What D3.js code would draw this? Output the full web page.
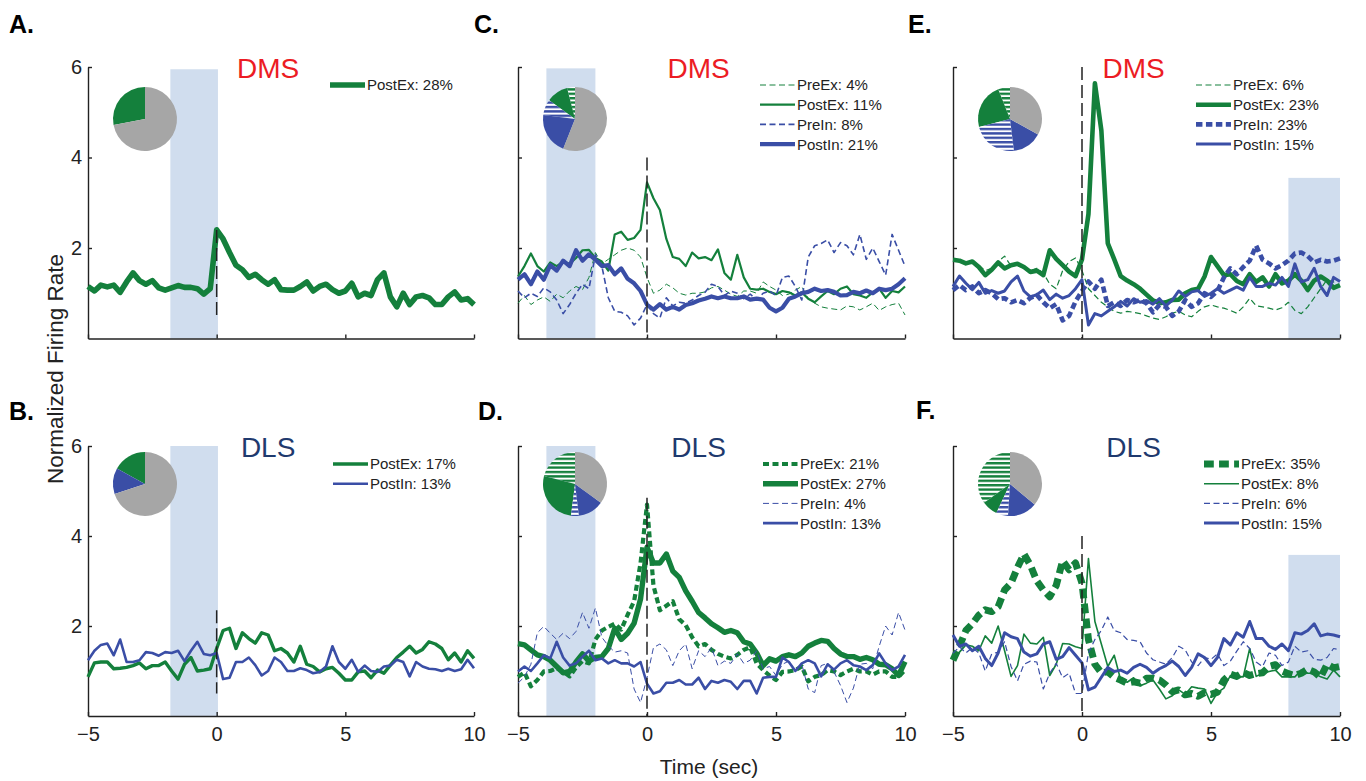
<!DOCTYPE html>
<html>
<head>
<meta charset="utf-8">
<script src="https://d3js.org/d3.v7.min.js"></script>
<style>
    body { margin: 0; background: #fff; }
    svg text { font-family: "Liberation Sans", Arial, sans-serif; fill: #222; }
</style>
</head>
<body>
<div id="chart"></div>
<script>
// sample times, sec
var timeSec = [-5, -4.75, -4.5, -4.25, -4, -3.75, -3.5, -3.25, -3, -2.75,
    -2.5, -2.25, -2, -1.75, -1.5, -1.25, -1, -0.75, -0.5, -0.25,
    0, 0.25, 0.5, 0.75, 1, 1.25, 1.5, 1.75, 2, 2.25,
    2.5, 2.75, 3, 3.25, 3.5, 3.75, 4, 4.25, 4.5, 4.75,
    5, 5.25, 5.5, 5.75, 6, 6.25, 6.5, 6.75, 7, 7.25,
    7.5, 7.75, 8, 8.25, 8.5, 8.75, 9, 9.25, 9.5, 9.75,
    10];

var seriesNames = ["PreEx", "PostEx", "PreIn", "PostIn"];

// percent of units per class (PreEx, PostEx, PreIn, PostIn)
var pctA = [0, 28, 0, 0];
var pctB = [0, 17, 0, 13];
var pctC = [4, 11, 8, 21];
var pctD = [21, 27, 4, 13];
var pctE = [6, 23, 23, 15];
var pctF = [35, 8, 6, 15];

// normalized firing rate traces
var A_PostEx = [1.15, 1.05, 1.18, 1.14, 1.18, 1.02, 1.25, 1.45, 1.28, 1.2,
    1.28, 1.12, 1.07, 1.12, 1.17, 1.13, 1.13, 1.1, 0.98, 1.1,
    2.4, 2.2, 1.9, 1.62, 1.52, 1.35, 1.42, 1.3, 1.2, 1.3,
    1.08, 1.07, 1.07, 1.15, 1.25, 1.05, 1.15, 1.2, 1.08, 1.0,
    1.05, 1.22, 0.92, 1.0, 0.95, 1.3, 1.45, 0.92, 0.7, 1.0,
    0.75, 0.92, 0.95, 0.9, 0.75, 0.75, 0.92, 1.03, 0.85, 0.88,
    0.75];

var B_PostEx = [0.87, 1.18, 1.2, 1.2, 1.05, 1.06, 1.08, 1.12, 1.18, 1.05,
    1.12, 1.12, 1.2, 1.0, 0.82, 1.15, 1.3, 1.0, 1.02, 1.05,
    1.5, 1.9, 1.95, 1.5, 1.85, 1.72, 1.62, 1.85, 1.8, 1.45,
    1.5, 1.4, 1.2, 1.55, 1.15, 1.1, 0.98, 1.05, 1.08, 0.95,
    0.8, 0.8, 0.98, 1.0, 0.85, 1.02, 0.95, 1.13, 1.3, 1.42,
    1.55, 1.4, 1.48, 1.65, 1.6, 1.5, 1.25, 1.4, 1.2, 1.45,
    1.28];
var B_PostIn = [1.24, 1.45, 1.58, 1.61, 1.35, 1.7, 1.2, 1.2, 1.24, 1.42,
    1.4, 1.34, 1.42, 1.4, 1.45, 1.22, 1.45, 1.65, 1.38, 1.35,
    1.4, 0.82, 0.85, 1.2, 1.2, 1.3, 1.13, 0.9, 1.0, 1.3,
    1.2, 1.0, 1.0, 1.06, 1.02, 0.95, 0.98, 1.1, 1.55, 1.2,
    1.05, 1.25, 0.98, 1.12, 1.0, 0.98, 1.1, 1.12, 1.25, 1.2,
    0.88, 1.2, 1.1, 1.05, 1.04, 1.0, 1.05, 1.0, 1.04, 1.25,
    1.06];

var C_PreEx = [0.78, 0.95, 0.75, 0.85, 0.92, 0.82, 0.98, 0.9, 1.05, 1.15,
    1.08, 1.35, 1.9, 1.65, 1.75, 1.85, 1.95, 2.0, 1.95, 1.8,
    1.35, 1.0, 1.07, 1.2, 1.12, 1.0, 0.96, 1.0, 1.0, 1.03,
    1.12, 1.15, 1.07, 0.98, 0.93, 1.05, 1.05, 1.0, 1.25, 1.15,
    1.07, 0.95, 0.98, 1.07, 1.15, 0.88, 0.78, 0.7, 0.67, 0.65,
    0.63, 0.72, 0.7, 0.63, 0.7, 0.78, 0.62, 0.7, 0.75, 0.78,
    0.52];
var C_PostEx = [1.37, 1.6, 1.88, 1.6, 1.48, 1.68, 1.6, 1.7, 1.65, 1.78,
    1.95, 1.96, 1.78, 1.7, 1.5, 2.3, 2.36, 2.18, 2.22, 2.4,
    3.45, 3.1, 2.84, 2.2, 1.8, 1.76, 1.6, 1.9, 1.77, 1.8,
    1.73, 1.97, 1.45, 1.3, 1.85, 1.35, 1.1, 1.08, 1.1, 1.03,
    0.98, 1.05, 1.02, 0.95, 1.02, 0.88, 0.8, 0.93, 1.05, 0.98,
    1.1, 1.15, 0.98, 0.95, 0.9, 1.02, 1.1, 0.9, 1.05, 1.02,
    1.15];
var C_PreIn = [1.05, 0.9, 1.0, 0.93, 1.12, 1.03, 0.85, 0.55, 0.75, 1.0,
    1.2, 1.1, 1.85, 1.6, 0.9, 0.6, 0.58, 0.5, 0.3, 0.45,
    0.75, 0.55, 0.45, 0.9, 0.72, 0.8, 0.78, 0.85, 0.95, 1.02,
    1.2, 1.15, 0.95, 1.05, 1.0, 0.88, 0.98, 0.85, 1.0, 1.05,
    0.95, 1.35, 1.38, 1.15, 0.85, 1.8, 2.05, 2.1, 2.18, 1.9,
    2.12, 2.05, 1.85, 2.3, 1.75, 2.0, 1.7, 1.4, 2.3, 1.95,
    1.6];
var C_PostIn = [1.3, 1.42, 1.2, 1.48, 1.3, 1.62, 1.5, 1.72, 1.6, 1.95,
    1.72, 1.86, 1.74, 1.6, 1.62, 1.42, 1.55, 1.32, 1.22, 1.05,
    0.75, 0.64, 0.76, 0.64, 0.7, 0.64, 0.74, 0.78, 0.84, 0.88,
    0.93, 0.89, 0.93, 0.89, 0.89, 0.93, 0.86, 0.88, 0.86, 0.68,
    0.6, 0.68, 0.88, 0.93, 1.0, 1.03, 1.1, 1.05, 1.07, 1.03,
    0.95, 0.96, 1.03, 1.0, 1.06, 1.0, 1.1, 1.07, 1.1, 1.2,
    1.33];

var D_PreEx = [0.87, 0.97, 0.66, 0.8, 0.99, 1.0, 1.06, 0.99, 0.88, 1.08,
    1.22, 1.17, 1.7, 1.9, 1.98, 2.05, 1.92, 2.25, 2.55, 3.4,
    4.7, 2.9, 2.35, 2.45, 2.55, 2.15, 2.02, 1.75, 1.55, 1.6,
    1.47, 1.38, 1.32, 1.28, 1.36, 1.47, 1.53, 1.17, 1.02, 0.9,
    0.8, 0.98, 0.99, 1.02, 1.1, 0.77, 0.87, 0.91, 1.02, 0.99,
    0.91, 0.99, 1.05, 0.99, 0.99, 0.92, 0.99, 0.99, 0.87, 0.87,
    1.02];
var D_PostEx = [1.61, 1.58, 1.47, 1.36, 1.32, 1.24, 1.1, 0.96, 0.99, 1.2,
    1.38, 1.22, 1.3, 1.32, 1.5, 1.95, 1.7, 1.84, 2.06, 2.6,
    3.75, 3.4, 3.4, 3.6, 3.22, 3.08, 2.78, 2.55, 2.3, 2.18,
    2.05, 1.96, 1.86, 1.9, 1.85, 1.65, 1.6, 1.4, 1.12, 1.27,
    1.22, 1.32, 1.36, 1.32, 1.4, 1.55, 1.62, 1.68, 1.66, 1.5,
    1.38, 1.32, 1.32, 1.26, 1.3, 1.25, 1.15, 1.14, 1.05, 0.9,
    1.21];
var D_PreIn = [0.73, 0.87, 1.15, 1.85, 1.99, 1.84, 1.7, 1.84, 1.72, 1.88,
    2.3, 1.95, 2.4, 1.75, 1.56, 1.42, 1.45, 1.4, 0.6, 0.3,
    0.85, 1.52, 1.6, 1.47, 1.12, 1.45, 1.6, 1.05, 1.45, 1.32,
    1.52, 1.12, 1.22, 1.17, 1.38, 1.17, 1.24, 1.45, 1.05, 1.1,
    0.9, 1.15, 1.22, 1.0, 1.15, 0.6, 0.52, 1.12, 1.17, 0.98,
    0.68, 0.3, 0.62, 1.15, 1.17, 1.05, 1.55, 2.0, 1.8, 2.3,
    1.91];
var D_PostIn = [0.99, 1.1, 1.0, 1.17, 1.35, 1.28, 1.65, 1.3, 1.12, 1.17,
    1.32, 1.45, 1.24, 1.28, 1.17, 1.24, 1.17, 1.17, 1.1, 1.2,
    0.72, 0.5, 0.55, 0.74, 0.74, 0.8, 0.7, 0.7, 0.85, 0.6,
    0.78, 0.74, 0.8, 0.76, 0.6, 0.78, 0.78, 0.5, 0.85, 0.87,
    0.87, 1.3, 1.2, 1.0, 1.17, 1.24, 1.17, 0.88, 1.15, 1.03,
    1.17, 1.24, 1.13, 1.1, 1.02, 1.13, 1.39, 1.17, 1.02, 1.1,
    1.36];

var E_PreEx = [1.72, 1.7, 1.65, 1.72, 1.62, 1.5, 1.55, 1.7, 1.82, 1.6,
    1.62, 1.55, 1.5, 1.55, 1.45, 1.2, 1.1, 1.5, 1.7, 1.78,
    1.5, 1.1, 0.95, 0.8, 0.7, 0.6, 0.56, 0.6, 0.58, 0.55,
    0.5, 0.45, 0.42, 0.48, 0.56, 0.6, 0.52, 0.48, 0.6, 0.7,
    0.74, 0.7, 0.67, 0.62, 0.56, 0.7, 0.89, 0.72, 0.7, 0.67,
    0.63, 0.68, 0.8, 0.62, 0.55, 0.7, 0.9, 1.1, 1.3, 1.25,
    1.15];
var E_PostEx = [1.74, 1.72, 1.66, 1.7, 1.58, 1.4, 1.52, 1.68, 1.55, 1.62,
    1.65, 1.58, 1.47, 1.5, 1.4, 1.95, 1.76, 1.62, 1.48, 1.38,
    1.75, 2.75, 5.64, 4.6, 2.1, 1.75, 1.38, 1.28, 1.2, 1.1,
    0.97, 0.84, 0.78, 0.8, 0.85, 0.86, 1.0, 1.07, 1.1, 1.37,
    1.8, 1.6, 1.4, 1.42, 1.27, 1.2, 1.42, 1.25, 1.35, 1.15,
    1.42, 1.22, 1.28, 1.42, 1.28, 1.07, 1.28, 1.37, 1.28, 1.12,
    1.18];
var E_PreIn = [1.07, 1.18, 1.07, 1.15, 1.0, 1.07, 1.0, 0.87, 0.89, 0.8,
    0.85, 0.78, 0.9, 0.96, 0.8, 0.67, 0.76, 0.4, 0.5, 0.82,
    1.05, 1.26, 1.1, 1.3, 0.72, 0.8, 0.72, 0.85, 0.8, 0.85,
    0.78, 0.58, 0.74, 0.7, 0.5, 0.6, 0.85, 0.7, 0.78, 1.0,
    0.92, 1.05, 1.35, 1.55, 1.42, 1.58, 1.72, 2.05, 1.74, 1.66,
    1.55, 1.62, 1.72, 1.88, 1.9, 1.82, 1.68, 1.74, 1.7, 1.72,
    1.77];
var E_PostIn = [1.15, 1.38, 1.22, 1.08, 1.24, 1.0, 1.06, 1.0, 1.05, 1.25,
    1.38, 1.05, 0.92, 0.97, 1.07, 0.86, 0.98, 0.89, 0.95, 1.1,
    1.3, 0.3, 0.55, 0.5, 0.6, 0.7, 0.82, 0.72, 0.88, 0.8,
    0.84, 0.76, 0.88, 0.72, 0.85, 1.05, 0.93, 1.03, 1.06, 0.93,
    1.0, 1.1, 1.0, 1.07, 1.14, 1.07, 1.35, 1.15, 1.15, 1.22,
    1.18, 1.35, 1.15, 1.65, 1.25, 1.3, 1.55, 1.15, 0.95, 1.35,
    1.26];

var F_PreEx = [1.24, 1.55, 1.9, 2.05, 2.24, 2.36, 2.32, 2.43, 2.8, 2.95,
    3.3, 3.6, 3.35, 3.0, 2.8, 2.65, 2.9, 3.45, 3.25, 3.4,
    2.95, 1.7, 1.15, 0.96, 0.98, 0.86, 0.8, 0.73, 0.76, 0.73,
    0.84, 0.84, 0.8, 0.69, 0.54, 0.58, 0.47, 0.5, 0.44, 0.52,
    0.48, 0.53, 0.8, 0.93, 0.88, 0.97, 0.9, 0.94, 0.96, 1.1,
    1.14, 1.0, 0.94, 0.9, 0.95, 1.04, 0.98, 0.86, 1.15, 1.07,
    1.1];
var F_PostEx = [1.24, 1.42, 1.58, 1.55, 1.45, 1.78, 1.62, 2.0, 1.45, 0.88,
    1.12, 1.82, 1.62, 1.6, 1.75, 0.9, 1.15, 1.61, 1.6, 1.54,
    1.5, 3.5, 2.1, 1.6, 1.1, 1.35, 0.8, 0.75, 0.85, 0.67,
    0.73, 0.8, 0.6, 0.38, 0.45, 0.58, 0.48, 0.65, 0.62, 0.6,
    0.28, 0.52, 0.62, 0.9, 0.88, 0.87, 1.5, 0.88, 0.95, 0.99,
    1.02, 0.87, 0.87, 0.87, 1.02, 0.95, 0.95, 0.87, 0.82, 1.02,
    0.87];
var F_PreIn = [1.39, 1.54, 1.4, 1.52, 1.4, 1.0, 1.38, 1.42, 1.65, 1.1,
    0.78, 1.15, 1.22, 1.2, 0.6, 0.95, 1.17, 0.85, 0.95, 0.5,
    0.5, 1.4, 1.7, 1.9, 2.2, 1.9, 1.85, 1.7, 1.68, 1.65,
    1.4, 1.25, 1.2, 1.15, 1.3, 1.55, 1.47, 1.2, 1.12, 1.3,
    1.26, 1.38, 1.12, 1.22, 1.44, 1.65, 1.5, 1.2, 1.1, 1.4,
    1.35, 1.12, 1.2, 1.55, 1.42, 1.45, 1.26, 1.24, 1.3, 1.5,
    1.47];
var F_PostIn = [1.8, 1.55, 1.6, 1.45, 1.55, 1.28, 1.12, 1.4, 1.85, 1.76,
    1.72, 1.42, 1.33, 1.38, 1.6, 1.65, 1.26, 1.32, 1.52, 1.35,
    1.18, 0.58, 0.64, 0.86, 1.08, 0.99, 1.02, 0.95, 1.08, 1.15,
    1.08, 0.95, 1.05, 1.12, 1.22, 1.1, 0.9, 1.08, 1.38, 1.3,
    1.12, 1.3, 1.72, 1.58, 1.85, 1.75, 2.1, 1.72, 1.72, 1.55,
    1.48, 1.6, 1.45, 1.85, 1.82, 1.9, 2.05, 1.78, 1.82, 1.8,
    1.76];

// tick labels
var xTicks = [-5, 0, 5, 10];
var yTicks = [2, 4, 6];

//////////////////////////////////////////////////////////////////////

var green = "#14803c", blue = "#3a4ea6", grey = "#a6a6a6", shade = "#d0ddee";

// pixel boxes of the plot columns / rows
var cols = [[88, 474], [518, 905], [953, 1340]];
var rows = [[338.5, 67], [716, 446]];

var panels = [
    { label: "A.", lx: 9, ly: 33, col: 0, row: 0, region: "DMS", win: [-1.8, 0.05, 5.95], ev: [0.5, 2.4],
      pct: pctA, values: [null, A_PostEx, null, null], legX: 242 },
    { label: "B.", lx: 9, ly: 420, col: 0, row: 1, region: "DLS", win: [-1.8, 0.05, 6], ev: [0.5, 2.35],
      pct: pctB, values: [null, B_PostEx, null, B_PostIn], legX: 245 },
    { label: "C.", lx: 474, ly: 33, col: 1, row: 0, region: "DMS", win: [-3.9, -2.0, 5.97], ev: [0, 4],
      pct: pctC, values: [C_PreEx, C_PostEx, C_PreIn, C_PostIn], legX: 242 },
    { label: "D.", lx: 478, ly: 420, col: 1, row: 1, region: "DLS", win: [-3.9, -2.0, 6], ev: [0, 4.85],
      pct: pctD, values: [D_PreEx, D_PostEx, D_PreIn, D_PostIn], legX: 245 },
    { label: "E.", lx: 908, ly: 33, col: 2, row: 0, region: "DMS", win: [8.0, 10, 3.55], ev: [0, 6],
      pct: pctE, values: [E_PreEx, E_PostEx, E_PreIn, E_PostIn], legX: 243 },
    { label: "F.", lx: 916, ly: 419, col: 2, row: 1, region: "DLS", win: [8.0, 10, 3.58], ev: [0, 4],
      pct: pctF, values: [F_PreEx, F_PostEx, F_PreIn, F_PostIn], legX: 251 }
];

var svg = d3.select("#chart")
    .append("svg")
    .attr("width", 1366)
    .attr("height", 781);

// striped fills for the "Pre" classes in the pies
var defs = svg.append("defs");
[["hatchGreen", green], ["hatchBlue", blue]].forEach(function (h) {
    var p = defs.append("pattern")
        .attr("id", h[0])
        .attr("patternUnits", "userSpaceOnUse")
        .attr("width", 6).attr("height", 4.4);
    p.append("rect").attr("width", 6).attr("height", 4.4).attr("fill", "#fff");
    p.append("rect").attr("width", 6).attr("height", 2.4).attr("fill", h[1]);
});

function lineWidth(pct) { return Math.max(1, pct / 5); }
function styleFor(i, pct) {
    var w = lineWidth(pct);
    var dashed = (i === 0 || i === 2);
    return {
        color: i < 2 ? green : blue,
        width: w,
        dash: dashed ? Math.max(6, w * 1.4) + "," + Math.max(3.5, w * 0.75) : null
    };
}

var pieFill = ["url(#hatchGreen)", green, "url(#hatchBlue)", blue, grey];

panels.forEach(function (p) {
    var x = d3.scaleLinear().domain([-5, 10]).range(cols[p.col]);
    var y = d3.scaleLinear().domain([0, 6]).range(rows[p.row]);
    var g = svg.append("g");
    var left = cols[p.col][0], top = rows[p.row][1];

    // window shading
    g.append("rect")
        .attr("x", x(p.win[0]))
        .attr("y", y(p.win[2]))
        .attr("width", x(p.win[1]) - x(p.win[0]))
        .attr("height", y(0) - y(p.win[2]))
        .attr("fill", shade);

    // axes
    var yAxis = d3.axisLeft(y).tickValues(yTicks).tickSize(-4).tickSizeOuter(0).tickPadding(6)
        .tickFormat(p.col === 0 ? d3.format("d") : "");
    var xAxis = d3.axisBottom(x).tickValues(xTicks).tickSize(-4).tickSizeOuter(0).tickPadding(11)
        .tickFormat(p.row === 1 ? d3.format("d") : "");
    [g.append("g").attr("transform", "translate(" + left + ",0)").call(yAxis),
     g.append("g").attr("transform", "translate(0," + y(0) + ")").call(xAxis)].forEach(function (a) {
        a.select(".domain").attr("stroke", "#222").attr("stroke-width", 1.4);
        a.selectAll(".tick line").attr("stroke", "#222").attr("stroke-width", 1.4);
        a.selectAll(".tick text").attr("font-size", 20).attr("font-family", "Liberation Sans, Arial, sans-serif").attr("fill", "#222");
    });

    // traces
    var line = d3.line()
        .x(function (d, i) { return x(timeSec[i]); })
        .y(function (d) { return y(d); });
    p.values.forEach(function (vals, i) {
        if (!vals) return;
        var s = styleFor(i, p.pct[i]);
        g.append("path")
            .datum(vals)
            .attr("d", line)
            .attr("fill", "none")
            .attr("stroke", s.color)
            .attr("stroke-width", s.width)
            .attr("stroke-linejoin", "round")
            .attr("stroke-dasharray", s.dash);
    });

    // event marker at t = 0
    g.append("line")
        .attr("x1", x(0)).attr("x2", x(0))
        .attr("y1", y(p.ev[1])).attr("y2", y(p.ev[0]))
        .attr("stroke", "#222")
        .attr("stroke-width", 1.5)
        .attr("stroke-dasharray", "13,5");

    // pie of unit classes
    var pieData = p.pct.map(function (v, i) { return { k: i, v: v }; });
    pieData.push({ k: 4, v: 100 - d3.sum(p.pct) });
    var arcs = d3.pie().sort(null).value(function (d) { return d.v; })
        .startAngle(0).endAngle(-2 * Math.PI)(pieData);
    var arc = d3.arc().innerRadius(0).outerRadius(32);
    g.append("g")
        .attr("transform", "translate(" + (left + 57) + "," + (top + (p.row === 0 ? 52 : 38)) + ")")
        .selectAll("path")
        .data(arcs.filter(function (a) { return a.data.v > 0; }))
        .enter()
        .append("path")
        .attr("d", arc)
        .attr("fill", function (a) { return pieFill[a.data.k]; });

    // region title
    g.append("text")
        .attr("x", x(2.0))
        .attr("y", top + 11)
        .attr("text-anchor", "middle")
        .attr("font-size", 28)
        .style("fill", p.region === "DMS" ? "#ec1c24" : "#1f3a6e")
        .text(p.region);

    // legend
    var entries = [];
    p.pct.forEach(function (v, i) { if (v > 0) entries.push(i); });
    entries.forEach(function (i, r) {
        var s = styleFor(i, p.pct[i]);
        var ly = top + 18 + r * 19.7;
        var lx = left + p.legX;
        g.append("line")
            .attr("x1", lx).attr("x2", lx + 35)
            .attr("y1", ly).attr("y2", ly)
            .attr("stroke", s.color)
            .attr("stroke-width", s.width)
            .attr("stroke-dasharray", s.dash);
        g.append("text")
            .attr("x", lx + 37)
            .attr("y", ly)
            .attr("dy", "0.36em")
            .attr("font-size", 15)
            .text(seriesNames[i] + ": " + p.pct[i] + "%");
    });

    // panel letter
    svg.append("text")
        .attr("x", p.lx)
        .attr("y", p.ly)
        .attr("font-size", 25)
        .attr("font-weight", "bold")
        .style("fill", "#000")
        .text(p.label);
});

// shared axis labels
svg.append("text")
    .attr("transform", "translate(55,369) rotate(-90)")
    .attr("dy", "0.35em")
    .attr("text-anchor", "middle")
    .attr("font-size", 22.5)
    .text("Normalized Firing Rate");

svg.append("text")
    .attr("x", 709)
    .attr("y", 774)
    .attr("text-anchor", "middle")
    .attr("font-size", 21)
    .text("Time (sec)");
</script>
</body>
</html>
